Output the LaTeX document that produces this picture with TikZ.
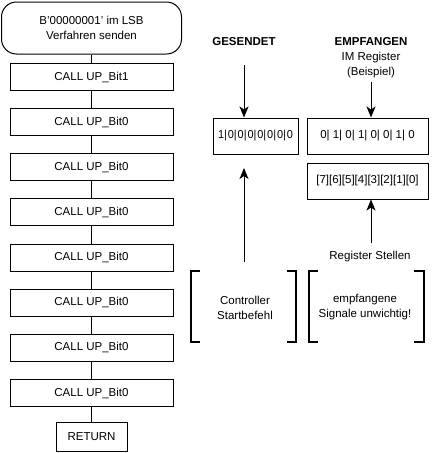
\documentclass[tikz,border=0pt]{standalone}
\usepackage{fontspec}
\setmainfont{Liberation Sans}
\newfontfamily\engfont[WordSpace=0.3,FakeStretch=0.95]{Liberation Sans}
\usepackage{tikz}
\usetikzlibrary{positioning,arrows.meta}
\tikzset{
	callbox/.style = {draw, line width=1pt, minimum width=163pt, minimum height=27pt, inner sep=0pt},
	regbox/.style = {draw, line width=1pt, minimum height=36pt, inner sep=0pt},
	line/.style = {draw, line width=1pt},
	pfeil/.style = {draw, line width=1pt, -{Stealth[length=11pt,width=9pt,inset=3pt]}},
	klammer/.style = {draw, line width=2pt}
}
\begin{document}
\begin{tikzpicture}[x=1pt,y=-1pt,font=\fontsize{11.5}{15}\selectfont]
		\useasboundingbox (0,0) rectangle (435,453); % picture size
		
		% flowchart on the left
		\node[draw, line width=1pt, rounded corners=15pt, minimum width=180pt, minimum height=52pt, align=center] (start) at (91.5,28) {B'00000001' im LSB\\Verfahren senden}; % start
		\node[callbox] (b1) at (91.5,77) {CALL UP\_Bit1}; % bit 1
		\node[callbox] (b2) at (91.5,122.1) {CALL UP\_Bit0}; % bit 2
		\node[callbox] (b3) at (91.5,167.3) {CALL UP\_Bit0}; % bit 3
		\node[callbox] (b4) at (91.5,212.4) {CALL UP\_Bit0}; % bit 4
		\node[callbox] (b5) at (91.5,257.6) {CALL UP\_Bit0}; % bit 5
		\node[callbox] (b6) at (91.5,302.7) {CALL UP\_Bit0}; % bit 6
		\node[callbox] (b7) at (91.5,347.9) {CALL UP\_Bit0}; % bit 7
		\node[callbox] (b8) at (91.5,393) {CALL UP\_Bit0}; % bit 8
		\node[draw, line width=1pt, minimum width=71pt, minimum height=29pt, inner sep=0pt] (ret) at (91.5,436.5) {RETURN}; % return
		
		\draw[line] (start) -- (b1);
		\draw[line] (b1) -- (b2);
		\draw[line] (b2) -- (b3);
		\draw[line] (b3) -- (b4);
		\draw[line] (b4) -- (b5);
		\draw[line] (b5) -- (b6);
		\draw[line] (b6) -- (b7);
		\draw[line] (b7) -- (b8);
		\draw[line] (b8) -- (ret);
		
		% sent register
		\node[font=\fontsize{11.5}{15}\selectfont\bfseries] (ges) at (244,42) {GESENDET}; % header
		\coordinate (gesA) at (244,65);
		\node[regbox, minimum width=85pt, font=\engfont\fontsize{11.5}{15}\selectfont] (send) at (255.5,136) {1| 0| 0| 0| 0| 0| 0| 0}; % sent bits
		\coordinate (ctrlA) at (244,262);
		\coordinate (ctrlB) at (244,168);
		\draw[pfeil] (gesA) -- (gesA |- send.north);
		\draw[pfeil] (ctrlA) -- (ctrlB);
		
		% received register
		\node[align=center, inner sep=1pt] (emp) at (371,58) {\textbf{EMPFANGEN}\\IM Register\\(Beispiel)}; % header
		\coordinate (empA) at (371,82);
		\node[regbox, minimum width=121pt] (recv) at (367.5,136) {0| 1| 0| 1| 0| 0| 1| 0}; % received bits
		\node[regbox, minimum width=121pt] (pos) at (367.5,181) {[7][6][5][4][3][2][1][0]}; % bit positions
		\node (stell) at (370,257) {Register Stellen}; % label
		\coordinate (stellA) at (371,243);
		\draw[pfeil] (empA) -- (empA |- recv.north);
		\draw[pfeil] (stellA) -- (stellA |- pos.south);
		
		% brackets
		\draw[klammer] (200,271) -- (191,271) -- (191,342) -- (200,342); % left [
		\draw[klammer] (287,271) -- (296,271) -- (296,342) -- (287,342); % left ]
		\draw[klammer] (318,271) -- (309,271) -- (309,342) -- (318,342); % right [
		\draw[klammer] (414,271) -- (424,271) -- (424,342) -- (414,342); % right ]
		\node[align=center] (ctrl) at (245,307.5) {Controller\\Startbefehl}; % controller text
		\node[align=center] (unw) at (365,307.5) {empfangene\\Signale unwichtig!}; % unimportant text
		
\end{tikzpicture}
\end{document}
